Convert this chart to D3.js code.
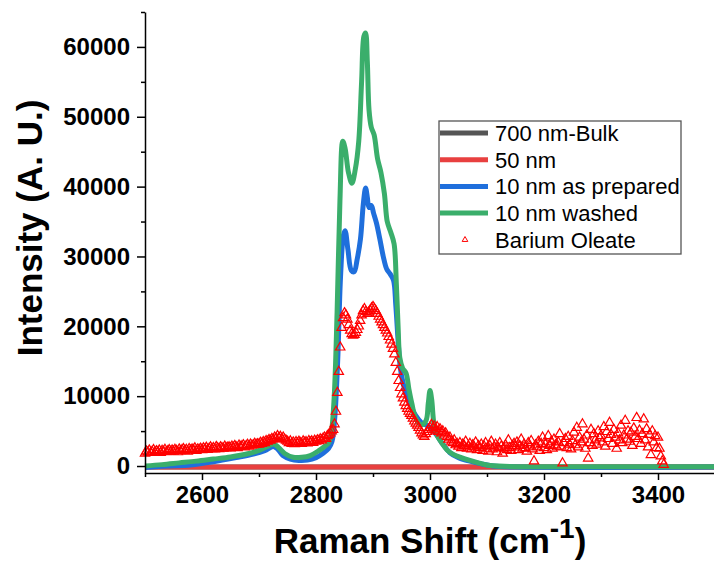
<!DOCTYPE html>
<html>
<head>
<meta charset="utf-8">
<script src="https://cdn.jsdelivr.net/npm/d3@7/dist/d3.min.js"></script>
<style>
  html, body { margin: 0; padding: 0; background: #fff; }
  svg text { font-family: Arial, "Liberation Sans", sans-serif; }
</style>
</head>
<body>
<div id="chart"></div>
<script>
// Raman spectra, C-H stretching region
const xTicks = [2600, 2800, 3000, 3200, 3400];
const xMinorTicks = [2500, 2700, 2900, 3100, 3300, 3500];
const yTicks = [0, 10000, 20000, 30000, 40000, 50000, 60000];
const yMinorTicks = [5000, 15000, 25000, 35000, 45000, 55000, 65000];

const seriesNames = ["700 nm-Bulk", "50 nm", "10 nm as prepared", "10 nm washed", "Barium Oleate"];

// 700 nm-Bulk
const bulkX = [2500, 2700, 2900, 3100, 3300, 3500];
const bulkY = [-150, -150, -150, -150, -150, -150];

// 50 nm
const nm50X = [2500, 2700, 2900, 3100, 3300, 3500];
const nm50Y = [-150, -150, -150, -150, -150, -150];

// 10 nm as prepared
const preparedX = [2500, 2540, 2580, 2620, 2660, 2690, 2710, 2725, 2733, 2742,
  2755, 2770, 2785, 2800, 2812, 2822, 2828, 2833, 2838, 2843,
  2848, 2851, 2856, 2862, 2867, 2872, 2878, 2883, 2887, 2890,
  2893, 2897, 2901, 2906, 2912, 2918, 2924, 2930, 2936, 2940,
  2944, 2948, 2953, 2960, 2967, 2975, 2985, 2995, 3003, 3012,
  3022, 3035, 3050, 3070, 3090, 3110, 3150, 3500];
const preparedY = [-200, 0, 150, 600, 1200, 1700, 2200, 2800, 2400, 1500,
  1000, 800, 850, 1200, 1800, 2500, 3500, 7000, 15000, 27000,
  33000, 33700, 31000, 28000, 27800, 29500, 32500, 37500, 39800, 38500,
  37000, 37300, 36200, 34800, 32500, 30000, 28200, 27500, 26600, 23000,
  18000, 14000, 11800, 9800, 8500, 7200, 6200, 5800, 5300, 4400,
  3200, 1900, 1200, 700, 300, 0, -150, -150];

// 10 nm washed
const washedX = [2500, 2530, 2560, 2590, 2620, 2650, 2680, 2700, 2715, 2726,
  2735, 2745, 2760, 2775, 2790, 2805, 2815, 2822, 2827, 2832,
  2837, 2842, 2847, 2851, 2857, 2863, 2869, 2875, 2880, 2884,
  2887, 2890, 2893, 2897, 2902, 2908, 2914, 2920, 2925, 2931,
  2937, 2941, 2944, 2947, 2952, 2958, 2963, 2968, 2975, 2985,
  2993, 2997, 3000, 3003, 3007, 3013, 3020, 3030, 3040, 3055,
  3070, 3085, 3100, 3130, 3200, 3300, 3400, 3500];
const washedY = [0, 200, 450, 700, 1000, 1300, 1750, 2250, 2800, 3150,
  2600, 1800, 1250, 1250, 1500, 2200, 2800, 3300, 4800, 10000,
  22000, 38000, 46500, 45500, 42000, 40500, 42500, 46500, 55000, 61500,
  62000, 58000, 51000, 48500, 47400, 44000, 42000, 39000, 35000, 33500,
  31800, 26000, 20000, 15500, 14000, 13300, 11000, 9000, 6800, 5900,
  6500, 9000, 10800, 9500, 6000, 4300, 3400, 2300, 1700, 1200,
  800, 450, 150, -50, -100, -100, -100, -100];

// Barium Oleate, 2500-3410 cm-1 every 2.5 cm-1 (one row = 50 cm-1)
const oleateStart = 2500, oleateStep = 2.5;
const oleateY = [
  1800, 2100, 1950, 2250, 1900, 2050, 2300, 1950, 2150, 2000, 2250, 1900, 2200, 2050, 2350, 2000, 2150, 2300, 2050, 2250,
  2100, 2350, 2200, 2000, 2400, 2150, 2300, 2450, 2200, 2350, 2100, 2450, 2250, 2400, 2300, 2550, 2200, 2400, 2350, 2500,
  2300, 2550, 2400, 2650, 2350, 2500, 2700, 2450, 2600, 2400, 2750, 2550, 2450, 2700, 2600, 2500, 2800, 2550, 2650, 2700,
  2550, 2800, 2650, 2900, 2700, 2600, 2950, 2750, 2850, 3000, 2700, 2900, 3050, 2800, 3100, 2950, 3000, 3200, 3050, 3150,
  3100, 3350, 3200, 3450, 3300, 3600, 3500, 3750, 3650, 3900, 3800, 4100, 3950, 4300, 4050, 4200, 3900, 4100, 3800, 3650,
  3500, 3300, 3550, 3200, 3400, 3150, 3450, 3250, 3500, 3300, 3200, 3550, 3350, 3450, 3250, 3600, 3400, 3550, 3350, 3650,
  3500, 3700, 3600, 3850, 3700, 3950, 4100, 3900, 4300, 4500, 4700, 5000, 5200, 6000, 7800, 10500, 13500, 17000, 19800, 21200,
  21900, 21600, 21000, 20200, 19400, 18900, 18700, 18800, 19100, 19500, 20000, 20800, 21600, 22200, 22500, 22100, 21800, 22000, 22300, 22600,
  22800, 22500, 22200, 21800, 21400, 21000, 20600, 20200, 19800, 19400, 19000, 18500, 18000, 17400, 16800, 16000, 14800, 13500, 12200, 11200,
  10300, 9700, 9100, 8600, 8200, 7800, 7500, 7200, 6800, 6400, 6100, 5800, 5500, 5100, 4700, 4400, 4200, 4600, 4900, 5200,
  5500, 5900, 5400, 5700, 5100, 5600, 4900, 5300, 4700, 5000, 4400, 4700, 4200, 3800, 4100, 3500, 3300, 3700, 3000, 3200,
  2800, 3300, 2600, 3100, 2900, 3500, 2500, 2800, 3200, 2400, 3000, 2700, 3400, 2300, 2900, 2600, 3100, 2200, 2800, 3300,
  2500, 2100, 2900, 3500, 2400, 2700, 3100, 2000, 2600, 3300, 2800, 1800, 2500, 3000, 2300, 3700, 2600, 2200, 2900, 3200,
  2700, 3400, 2300, 2900, 3800, 2500, 3100, 2600, 2100, 3300, 2800, 3600, 2400, 700, 3000, 2700, 3500, 2200, 3200, 4100,
  2600, 3100, 2300, 4300, 2900, 3500, 2500, 3800, 3000, 2700, 3400, 4600, 2800, 400, 3300, 3900, 2600, 4200, 3100, 2400,
  3600, 4800, 3000, 5500, 2700, 4100, 3400, 6000, 3800, 2500, 4400, 1100, 3300, 5200, 2900, 4600, 3700, 3100, 5000, 4000,
  4300, 3400, 5600, 2800, 4900, 3900, 6200, 4500, 3200, 5200, 4100, 2500, 4700, 3700, 5800, 3300, 4400, 6500, 3800, 5000,
  3500, 4800, 2900, 5400, 4200, 6900, 3900, 5100, 3200, 4600, 6700, 3700, 5300, 2700, 4500, 1600, 5000, 3400, 4300, 2600,
  4100, 2500, 1400, 700, 200
];

const colors = {
  bulk: "#555555",
  nm50: "#e8403f",
  prepared: "#1f6fdc",
  washed: "#3aae6b",
  oleate: "#ff0000"
};

const width = 714, height = 563;
const svg = d3.select("#chart").append("svg")
  .attr("width", width)
  .attr("height", height);

const x = d3.scaleLinear().domain([2500, 3500]).range([145, 715]);
const y = d3.scaleLinear().domain([-1000, 65000]).range([473, 12]);

const pairs = (xs, ys) => xs.map((v, i) => [v, ys[i]]);
const oleate = oleateY.map((v, i) => [oleateStart + i * oleateStep, v]);

const line = d3.line()
  .x(d => x(d[0]))
  .y(d => y(d[1]))
  .curve(d3.curveCatmullRom.alpha(0.5));

const lines = [
  {data: pairs(bulkX, bulkY), color: colors.bulk},
  {data: pairs(nm50X, nm50Y), color: colors.nm50},
  {data: pairs(preparedX, preparedY), color: colors.prepared},
  {data: pairs(washedX, washedY), color: colors.washed}
];

svg.append("g").selectAll("path")
  .data(lines)
  .enter().append("path")
  .attr("d", d => line(d.data))
  .attr("fill", "none")
  .attr("stroke", d => d.color)
  .attr("stroke-width", 5)
  .attr("stroke-linejoin", "round");

// hollow triangles
const tri = d3.symbol().type(d3.symbolTriangle).size(38);
svg.append("g").selectAll("path")
  .data(oleate)
  .enter().append("path")
  .attr("d", tri)
  .attr("transform", d => "translate(" + x(d[0]) + "," + y(d[1]) + ")")
  .attr("fill", "none")
  .attr("stroke", colors.oleate)
  .attr("stroke-width", 1.2);

// axes
const xAxis = d3.axisBottom(x).tickValues(xTicks).tickSize(7).tickSizeOuter(0).tickPadding(6).tickFormat(d3.format("d"));
const xMinor = d3.axisBottom(x).tickValues(xMinorTicks).tickSize(4).tickFormat("");
const yAxis = d3.axisLeft(y).tickValues(yTicks).tickSize(8).tickSizeOuter(0).tickPadding(7).tickFormat(d3.format("d"));
const yMinor = d3.axisLeft(y).tickValues(yMinorTicks).tickSize(4).tickFormat("");

const gx = svg.append("g").attr("transform", "translate(0,473)").call(xAxis);
svg.append("g").attr("transform", "translate(0,473)").call(xMinor).select(".domain").remove();
const gy = svg.append("g").attr("transform", "translate(145,0)").call(yAxis);
svg.append("g").attr("transform", "translate(145,0)").call(yMinor).select(".domain").remove();

svg.selectAll(".domain, .tick line").attr("stroke", "#000").attr("stroke-width", 1.5);
gx.selectAll("text").attr("font-size", 24).attr("font-weight", "bold").attr("fill", "#000");
gy.selectAll("text").attr("font-size", 24).attr("font-weight", "bold").attr("fill", "#000");

// axis titles
const xTitle = svg.append("text")
  .attr("x", 430).attr("y", 553)
  .attr("text-anchor", "middle")
  .attr("font-size", 35).attr("font-weight", "bold");
xTitle.append("tspan").text("Raman Shift (cm");
xTitle.append("tspan").attr("dy", -15).attr("font-size", 28).text("-1");
xTitle.append("tspan").attr("dy", 15).text(")");

svg.append("text")
  .attr("transform", "translate(42,228) rotate(-90)")
  .attr("text-anchor", "middle")
  .attr("font-size", 35).attr("font-weight", "bold")
  .text("Intensity (A. U.)");

// legend
const legend = svg.append("g");
legend.append("rect")
  .attr("x", 439).attr("y", 121).attr("width", 242).attr("height", 133)
  .attr("fill", "#fff").attr("stroke", "#555").attr("stroke-width", 1.3);

const rowY = i => 133 + i * 26.7;
const legendColors = [colors.bulk, colors.nm50, colors.prepared, colors.washed];
legendColors.forEach((c, i) => {
  legend.append("line")
    .attr("x1", 440).attr("x2", 488)
    .attr("y1", rowY(i)).attr("y2", rowY(i))
    .attr("stroke", c).attr("stroke-width", 5);
});
legend.append("path")
  .attr("d", d3.symbol().type(d3.symbolTriangle).size(14)())
  .attr("transform", "translate(465," + rowY(4) + ")")
  .attr("fill", "none").attr("stroke", colors.oleate).attr("stroke-width", 1);

legend.selectAll("text.entry")
  .data(seriesNames)
  .enter().append("text")
  .attr("class", "entry")
  .attr("x", 495)
  .attr("y", (d, i) => rowY(i) + 8)
  .attr("font-size", 22)
  .attr("fill", "#000")
  .text(d => d);
</script>
</body>
</html>
